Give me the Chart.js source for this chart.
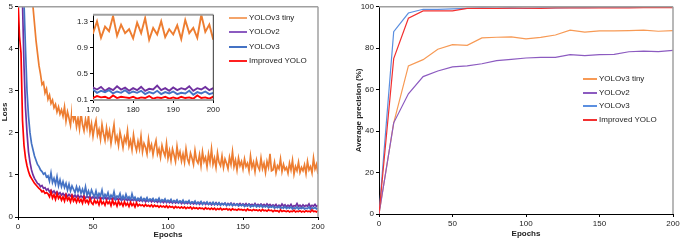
<!DOCTYPE html>
<html>
<head>
<meta charset="utf-8">
<script src="https://cdn.jsdelivr.net/npm/chart.js@4.4.1/dist/chart.umd.min.js"></script>
<style>
  body { margin: 0; background: #fff; font-family: "Liberation Sans", Arial, sans-serif; }
  #wrap { position: relative; width: 685px; height: 241px; overflow: hidden; background: #fff; }
  canvas { position: absolute; }
  .item { position: absolute; white-space: nowrap; font-size: 8px; color: #222; height: 10px; line-height: 10px; }
  .item .ln { position: absolute; top: 4px; height: 2px; }
</style>
</head>
<body>
<div id="wrap">
  <canvas id="loss" width="340" height="241" style="left:0;top:0"></canvas>
  <canvas id="inset" width="150" height="108" style="left:72px;top:8px;background:#fff"></canvas>
  <canvas id="ap" width="345" height="241" style="left:340px;top:0"></canvas>
</div>
<script>
// ---- data ----
const seriesNames = ['YOLOv3 tiny', 'YOLOv2', 'YOLOv3', 'Improved YOLO'];

const lossEpochs = Array.from({ length: 201 }, (_, i) => i);

const lossTiny = [
  12, 11, 10, 9.2, 8.4, 7.7, 7.0, 6.4, 5.9, 5.4,
  5.0, 4.6, 4.2, 3.9, 3.6, 3.4, 3.15, 3.2, 2.95, 3.05,
  2.8, 2.9, 2.7, 2.78, 2.6, 2.68, 2.5, 2.62, 2.45, 2.55,
  2.40, 2.62, 2.28, 2.50, 2.35, 2.18, 2.55, 2.30, 2.42, 2.15,
  2.35, 2.10, 2.48, 2.20, 2.05, 2.32, 2.12, 2.40, 2.02, 2.22,
  1.92, 2.15, 2.30, 1.95, 2.08, 1.85, 2.20, 1.98, 1.82, 2.12,
  1.88, 2.05, 1.75, 1.98, 2.20, 1.80, 1.92, 1.70, 2.02, 1.85,
  1.65, 1.90, 1.78, 2.05, 1.68, 1.82, 1.60, 1.95, 1.72, 1.58,
  1.80, 1.62, 1.92, 1.55, 1.75, 1.66, 1.50, 1.85, 1.60, 1.72,
  1.48, 1.68, 1.82, 1.50, 1.62, 1.42, 1.70, 1.55, 1.45, 1.75,
  1.40, 1.58, 1.35, 1.62, 1.48, 1.32, 1.68, 1.42, 1.55, 1.33,
  1.50, 1.30, 1.62, 1.38, 1.28, 1.52, 1.40, 1.25, 1.58, 1.35,
  1.28, 1.48, 1.22, 1.55, 1.32, 1.42, 1.20, 1.50, 1.30, 1.62,
  1.25, 1.40, 1.18, 1.52, 1.30, 1.22, 1.45, 1.18, 1.38, 1.28,
  1.15, 1.42, 1.25, 1.55, 1.20, 1.35, 1.12, 1.40, 1.22, 1.32,
  1.14, 1.38, 1.20, 1.28, 1.10, 1.45, 1.18, 1.30, 1.08, 1.35,
  1.20, 1.12, 1.40, 1.15, 1.28, 1.06, 1.32, 1.18, 1.50, 1.10,
  1.12, 1.30, 1.05, 1.22, 1.15, 1.38, 1.08, 1.25, 1.12, 1.18,
  1.04, 1.28, 1.12, 1.35, 1.02, 1.20, 1.10, 1.30, 1.06, 1.18,
  1.10, 1.24, 1.03, 1.32, 1.12, 1.20, 1.05, 1.40, 1.14, 1.25,
  1.02
];

const lossV2 = [
  12, 8, 6, 5.1, 3.6, 2.6, 2.0, 1.55, 1.3, 1.12,
  1.0, 0.92, 0.86, 0.8, 0.78, 0.72, 0.75, 0.68, 0.7, 0.64,
  0.67, 0.6, 0.64, 0.58, 0.62, 0.56, 0.6, 0.54, 0.58, 0.52,
  0.56, 0.51, 0.55, 0.49, 0.54, 0.50, 0.53, 0.48, 0.52, 0.47,
  0.52, 0.46, 0.50, 0.47, 0.51, 0.45, 0.49, 0.46, 0.50, 0.44,
  0.48, 0.44, 0.47, 0.43, 0.48, 0.42, 0.46, 0.43, 0.47, 0.41,
  0.46, 0.42, 0.45, 0.41, 0.46, 0.40, 0.44, 0.41, 0.45, 0.39,
  0.44, 0.40, 0.43, 0.39, 0.44, 0.38, 0.42, 0.39, 0.43, 0.37,
  0.42, 0.38, 0.41, 0.37, 0.42, 0.36, 0.40, 0.37, 0.41, 0.36,
  0.40, 0.36, 0.39, 0.35, 0.40, 0.35, 0.38, 0.34, 0.39, 0.34,
  0.38, 0.34, 0.37, 0.33, 0.38, 0.33, 0.36, 0.33, 0.37, 0.32,
  0.36, 0.32, 0.35, 0.32, 0.36, 0.31, 0.35, 0.31, 0.34, 0.31,
  0.35, 0.30, 0.34, 0.31, 0.35, 0.30, 0.33, 0.30, 0.34, 0.29,
  0.33, 0.30, 0.34, 0.29, 0.33, 0.29, 0.32, 0.30, 0.33, 0.28,
  0.32, 0.29, 0.33, 0.28, 0.32, 0.28, 0.31, 0.29, 0.32, 0.28,
  0.31, 0.28, 0.32, 0.27, 0.31, 0.28, 0.30, 0.27, 0.32, 0.27,
  0.30, 0.27, 0.31, 0.27, 0.30, 0.26, 0.31, 0.27, 0.30, 0.26,
  0.29, 0.26, 0.30, 0.24, 0.28, 0.25, 0.31, 0.26, 0.29, 0.24,
  0.28, 0.25, 0.30, 0.24, 0.27, 0.26, 0.32, 0.25, 0.28, 0.24,
  0.29, 0.25, 0.28, 0.26, 0.31, 0.24, 0.28, 0.26, 0.30, 0.25,
  0.28
];

const lossV3 = [
  12, 9, 7, 5.8, 5.1, 4.0, 3.0, 2.4, 2.0, 1.75,
  1.6, 1.45, 1.35, 1.25, 1.2, 1.12, 1.08, 1.02, 1.05, 0.95,
  0.98, 0.85, 1.05, 0.82, 0.92, 0.78, 0.96, 0.74, 0.88, 0.72,
  0.84, 0.70, 0.80, 0.64, 0.78, 0.62, 0.74, 0.66, 0.58, 0.72,
  0.60, 0.70, 0.56, 0.66, 0.54, 0.72, 0.52, 0.62, 0.50, 0.64,
  0.55, 0.48, 0.62, 0.47, 0.56, 0.50, 0.64, 0.45, 0.54, 0.48,
  0.58, 0.44, 0.52, 0.46, 0.60, 0.43, 0.50, 0.47, 0.56, 0.42,
  0.50, 0.41, 0.54, 0.44, 0.48, 0.40, 0.55, 0.42, 0.47, 0.39,
  0.45, 0.41, 0.47, 0.39, 0.44, 0.40, 0.46, 0.38, 0.43, 0.40,
  0.44, 0.37, 0.42, 0.39, 0.45, 0.36, 0.41, 0.38, 0.43, 0.36,
  0.40, 0.37, 0.42, 0.35, 0.39, 0.36, 0.41, 0.34, 0.38, 0.35,
  0.40, 0.33, 0.37, 0.35, 0.39, 0.32, 0.36, 0.34, 0.38, 0.31,
  0.35, 0.33, 0.37, 0.30, 0.34, 0.32, 0.36, 0.30, 0.33, 0.31,
  0.35, 0.29, 0.33, 0.30, 0.34, 0.28, 0.32, 0.29, 0.33, 0.27,
  0.31, 0.28, 0.32, 0.27, 0.30, 0.28, 0.31, 0.26, 0.29, 0.27,
  0.30, 0.25, 0.28, 0.26, 0.30, 0.24, 0.27, 0.25, 0.29, 0.24,
  0.27, 0.24, 0.28, 0.23, 0.26, 0.24, 0.27, 0.22, 0.25, 0.23,
  0.26, 0.21, 0.24, 0.22, 0.25, 0.20, 0.23, 0.21, 0.25, 0.20,
  0.23, 0.21, 0.24, 0.19, 0.22, 0.20, 0.24, 0.19, 0.22, 0.20,
  0.23, 0.19, 0.21, 0.20, 0.24, 0.18, 0.22, 0.20, 0.23, 0.19,
  0.21
];

const lossImproved = [
  5.2, 4.3, 3.9, 2.3, 1.7, 1.4, 1.22, 1.08, 0.98, 0.92,
  0.86, 0.8, 0.76, 0.72, 0.68, 0.65, 0.6, 0.62, 0.56, 0.58,
  0.55, 0.48, 0.60, 0.45, 0.53, 0.42, 0.56, 0.44, 0.50, 0.40,
  0.48, 0.38, 0.52, 0.40, 0.46, 0.36, 0.50, 0.38, 0.44, 0.35,
  0.45, 0.36, 0.42, 0.33, 0.47, 0.35, 0.40, 0.32, 0.44, 0.34,
  0.30, 0.40, 0.33, 0.38, 0.29, 0.42, 0.31, 0.36, 0.28, 0.39,
  0.32, 0.37, 0.27, 0.40, 0.30, 0.35, 0.26, 0.38, 0.29, 0.34,
  0.26, 0.36, 0.28, 0.33, 0.25, 0.35, 0.27, 0.32, 0.24, 0.34,
  0.26, 0.30, 0.27, 0.29, 0.25, 0.30, 0.26, 0.28, 0.25, 0.29,
  0.24, 0.28, 0.25, 0.27, 0.23, 0.27, 0.24, 0.26, 0.23, 0.27,
  0.22, 0.26, 0.23, 0.25, 0.21, 0.25, 0.22, 0.24, 0.21, 0.24,
  0.21, 0.24, 0.20, 0.23, 0.21, 0.24, 0.19, 0.23, 0.20, 0.22,
  0.19, 0.22, 0.20, 0.21, 0.18, 0.22, 0.19, 0.21, 0.18, 0.21,
  0.18, 0.21, 0.17, 0.20, 0.18, 0.21, 0.17, 0.19, 0.18, 0.20,
  0.17, 0.19, 0.16, 0.20, 0.17, 0.18, 0.16, 0.19, 0.17, 0.18,
  0.16, 0.18, 0.15, 0.19, 0.16, 0.17, 0.15, 0.18, 0.16, 0.17,
  0.15, 0.17, 0.14, 0.18, 0.15, 0.16, 0.14, 0.17, 0.15, 0.16,
  0.13, 0.16, 0.14, 0.15, 0.12, 0.17, 0.13, 0.15, 0.14, 0.13,
  0.15, 0.12, 0.14, 0.13, 0.16, 0.12, 0.14, 0.13, 0.15, 0.12,
  0.14, 0.12, 0.15, 0.13, 0.14, 0.12, 0.17, 0.13, 0.14, 0.12,
  0.15
];

const apEpochs = [0, 10, 20, 30, 40, 50, 60, 70, 80, 90, 100, 110, 120, 130, 140, 150, 160, 170, 180, 190, 200];
const apTiny = [0, 44, 71.5, 74.5, 79.5, 81.7, 81.4, 85, 85.3, 85.5, 84.5, 85.2, 86.4, 88.7, 87.8, 88.4, 88.4, 88.5, 88.7, 88.2, 88.5];
const apV2 = [0, 44, 58, 66.3, 69, 71, 71.5, 72.5, 74, 74.6, 75.3, 75.6, 75.6, 76.9, 76.4, 76.9, 77, 78.3, 78.6, 78.4, 79];
const apV3 = [0, 88, 97, 98.8, 98.8, 99, 99.2, 99.5, 99.4, 99.5, 99.2, 99.5, 99.5, 99.6, 99.6, 99.7, 99.7, 99.7, 99.7, 99.7, 99.8];
const apImproved = [0, 75, 94.5, 98, 98, 98, 99.2, 99.2, 99.2, 99.4, 99.4, 99.2, 99.5, 99.5, 99.5, 99.5, 99.5, 99.5, 99.6, 99.6, 99.6];

const epochTicks = [0, 50, 100, 150, 200];
const lossTicks = [0, 1, 2, 3, 4, 5];
const insetEpochTicks = [170, 180, 190, 200];
const insetLossTicks = [0.1, 0.5, 0.9, 1.3];
const apTicks = [0, 20, 40, 60, 80, 100];

// ---- styles ----
const lossColors = ['#ED7D31', '#7030A0', '#4472C4', '#FF0000'];
const apColors = ['#F79A55', '#8C5BC0', '#5B8FE0', '#F23030'];
const FONT = '"Liberation Sans", Arial, sans-serif';
const tickFont = { family: FONT, size: 8 };
const titleFont = { family: FONT, size: 8, weight: 'bold' };

const frame = {
  id: 'frame',
  afterDatasetsDraw(chart, args, opts) {
    const { ctx, chartArea: a } = chart;
    ctx.save();
    (opts.sides || []).forEach(s => {
      ctx.strokeStyle = s.color;
      ctx.lineWidth = s.width;
      ctx.beginPath();
      if (s.side === 'top') { ctx.moveTo(a.left, a.top); ctx.lineTo(a.right, a.top); }
      if (s.side === 'right') { ctx.moveTo(a.right, a.top); ctx.lineTo(a.right, a.bottom); }
      if (s.side === 'bottom') { ctx.moveTo(a.left, a.bottom); ctx.lineTo(a.right, a.bottom); }
      ctx.stroke();
    });
    ctx.restore();
  }
};

const setTicks = values => scale => { scale.ticks = values.map(v => ({ value: v })); };

function axis(min, max, ticks, size, title, horizontal, titlePad) {
  return {
    type: 'linear', min, max,
    afterBuildTicks: setTicks(ticks),
    afterFit: s => { if (horizontal) s.height = size; else s.width = size; },
    grid: { drawOnChartArea: false, tickLength: 3, color: '#000' },
    border: { color: '#000', width: 1 },
    ticks: { font: tickFont, color: '#222', padding: 2, maxRotation: 0 },
    title: { display: !!title, text: title, font: titleFont, color: '#222', padding: titlePad }
  };
}

function lines(xs, series, colors, width) {
  return series.map((ys, i) => ({
    label: seriesNames[i],
    data: xs.map((x, j) => ({ x, y: ys[j] })),
    borderColor: colors[i],
    borderWidth: width,
    order: series.length - i
  }));
}

const base = {
  responsive: false,
  animation: false,
  events: [],
  elements: { point: { radius: 0 }, line: { tension: 0 } }
};

const lossSeries = [lossTiny, lossV2, lossV3, lossImproved];

new Chart(document.getElementById('loss'), {
  type: 'line',
  data: { datasets: lines(lossEpochs, lossSeries, lossColors, 1.7) },
  options: {
    ...base,
    layout: { padding: { top: 4, right: 22, left: 0, bottom: 0 } },
    plugins: {
      legend: { display: false }, tooltip: { enabled: false },
      frame: { sides: [{ side: 'top', color: '#a0a0a0', width: 1.5 }, { side: 'right', color: '#a0a0a0', width: 1.5 }] }
    },
    scales: {
      x: axis(0, 200, epochTicks, 24, 'Epochs', true, { top: 0, bottom: 1 }),
      y: axis(0, 5, lossTicks, 18, 'Loss', false, { top: 0, bottom: 0 })
    }
  },
  plugins: [frame]
});

new Chart(document.getElementById('inset'), {
  type: 'line',
  data: { datasets: lines(lossEpochs, lossSeries, lossColors, 1.9) },
  options: {
    ...base,
    layout: { padding: { top: 4, right: 8, left: 0, bottom: 0 } },
    plugins: {
      legend: { display: false }, tooltip: { enabled: false },
      frame: { sides: [{ side: 'top', color: '#a0a0a0', width: 2 }, { side: 'right', color: '#333', width: 1 }, { side: 'bottom', color: '#a0a0a0', width: 2 }] }
    },
    scales: {
      x: axis(170, 200, insetEpochTicks, 16, '', true, 0),
      y: axis(0.1, 1.4, insetLossTicks, 21, '', false, 0)
    }
  },
  plugins: [frame]
});

new Chart(document.getElementById('ap'), {
  type: 'line',
  data: { datasets: lines(apEpochs, [apTiny, apV2, apV3, apImproved], apColors, 1.2) },
  options: {
    ...base,
    layout: { padding: { top: 4, right: 12, left: 0, bottom: 0 } },
    plugins: {
      legend: { display: false }, tooltip: { enabled: false },
      frame: { sides: [{ side: 'top', color: '#a0a0a0', width: 1.5 }, { side: 'right', color: '#a0a0a0', width: 1.5 }] }
    },
    scales: {
      x: axis(0, 200, epochTicks, 27, 'Epochs', true, { top: 0, bottom: 2 }),
      y: axis(0, 100, apTicks, 39, 'Average precision (%)', false, { top: 14, bottom: 0 })
    }
  },
  plugins: [frame]
});

// legends as html text
function legend(x, y, gap, lineW, colors) {
  const wrap = document.getElementById('wrap');
  seriesNames.forEach((name, i) => {
    const d = document.createElement('div');
    d.className = 'item';
    d.style.left = x + 'px';
    d.style.top = (y + i * gap - 5) + 'px';
    d.style.paddingLeft = (lineW + 2) + 'px';
    d.innerHTML = '<span class="ln" style="left:0;width:' + lineW + 'px;background:' + colors[i] + '"></span>' + name;
    wrap.appendChild(d);
  });
}
legend(229, 18, 14.4, 18, ['#F4A46A', '#8C5BC0', '#4472C4', '#FF2020']);
legend(583, 79, 13.7, 14, apColors);
</script>
</body>
</html>
